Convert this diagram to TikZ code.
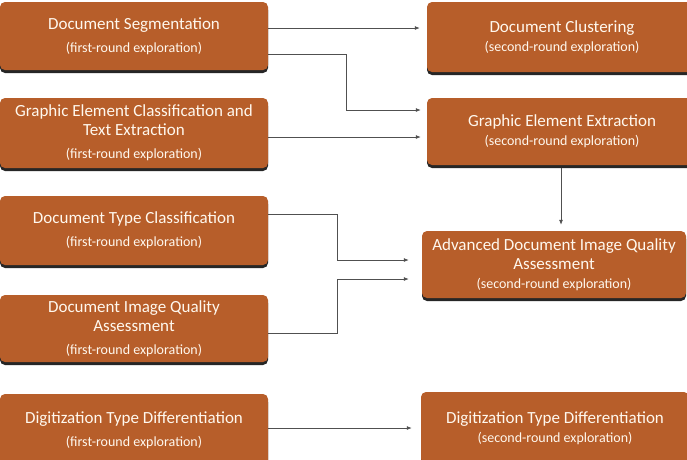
\documentclass[tikz,border=0pt]{standalone}
\usepackage{fontspec}
\setmainfont{Carlito}
\usetikzlibrary{shadows,arrows.meta,calc}
\definecolor{boxfill}{RGB}{183,94,42}
\definecolor{boxtext}{RGB}{255,248,238}
\definecolor{linecol}{RGB}{80,80,80}
\tikzset{
  box/.style={rectangle, rounded corners=5pt, fill=boxfill, text=boxtext,
    align=center, inner sep=2pt,
    drop shadow={shadow xshift=0pt, shadow yshift=-3pt, fill=black!85, opacity=1},
    font=\fontsize{17}{19}\selectfont},
  conn/.style={draw=linecol, line width=0.8pt, -{Latex[length=5pt,width=4pt]}},
}
\newcommand{\subline}[1]{{\fontsize{14}{17}\selectfont #1}}
\begin{document}
\begin{tikzpicture}[x=1pt,y=-1pt]
\useasboundingbox[fill=white] (0,0) rectangle (687,459);
% left column
\node[box, minimum width=268pt, minimum height=68pt] (L1) at (134,36)
  {Document Segmentation\\[4pt]\subline{(first-round exploration)}};
\node[box, minimum width=268pt, minimum height=70pt] (L2) at (134,133)
  {Graphic Element Classification and\\Text Extraction\\[4pt]\subline{(first-round exploration)}};
\node[box, minimum width=268pt, minimum height=69pt] (L3) at (134,230.5)
  {Document Type Classification\\[4pt]\subline{(first-round exploration)}};
\node[box, minimum width=268pt, minimum height=67pt] (L4) at (134,328.5)
  {Document Image Quality\\Assessment\\[4pt]\subline{(first-round exploration)}};
\node[box, minimum width=268pt, minimum height=72pt] (L5) at (134,430)
  {Digitization Type Differentiation\\[4pt]\subline{(first-round exploration)}};
% right column
\node[box, minimum width=270pt, minimum height=70pt] (R1) at (562,37)
  {Document Clustering\\\subline{(second-round exploration)}};
\node[box, minimum width=270pt, minimum height=67pt] (R2) at (562,131.5)
  {Graphic Element Extraction\\\subline{(second-round exploration)}};
\node[box, minimum width=264pt, minimum height=67pt] (R3) at (554,264.5)
  {Advanced Document Image Quality\\Assessment\\\subline{(second-round exploration)}};
\node[box, minimum width=268pt, minimum height=72pt] (R4) at (555,428)
  {Digitization Type Differentiation\\\subline{(second-round exploration)}};
% connectors
\coordinate (a1) at (L1.east |- 0,28);
\draw[conn, shorten >=7pt] (a1) -- (a1 -| R1.west);
\coordinate (a2) at (L1.east |- 0,54);
\coordinate (b2) at (R2.west |- 0,110);
\draw[conn, shorten >=6pt] (a2) -- (a2 -| 346,0) |- (b2);
\coordinate (a3) at (L2.east |- 0,137);
\draw[conn, shorten >=6pt] (a3) -- (a3 -| R2.west);
\coordinate (a4) at (L3.east |- 0,214);
\coordinate (b4) at (R3.west |- 0,260);
\draw[conn, shorten >=13pt] (a4) -- (a4 -| 337,0) |- (b4);
\coordinate (a5) at (L4.east |- 0,333);
\coordinate (b5) at (R3.west |- 0,279);
\draw[conn, shorten >=13pt] (a5) -- (a5 -| 337,0) |- (b5);
\draw[conn, shorten <=3pt, shorten >=6pt] (R2.south -| 561,0) -- (R3.north -| 561,0);
\coordinate (a6) at (L5.east |- 0,428);
\draw[conn, shorten >=9pt] (a6) -- (a6 -| R4.west);
\end{tikzpicture}
\end{document}
